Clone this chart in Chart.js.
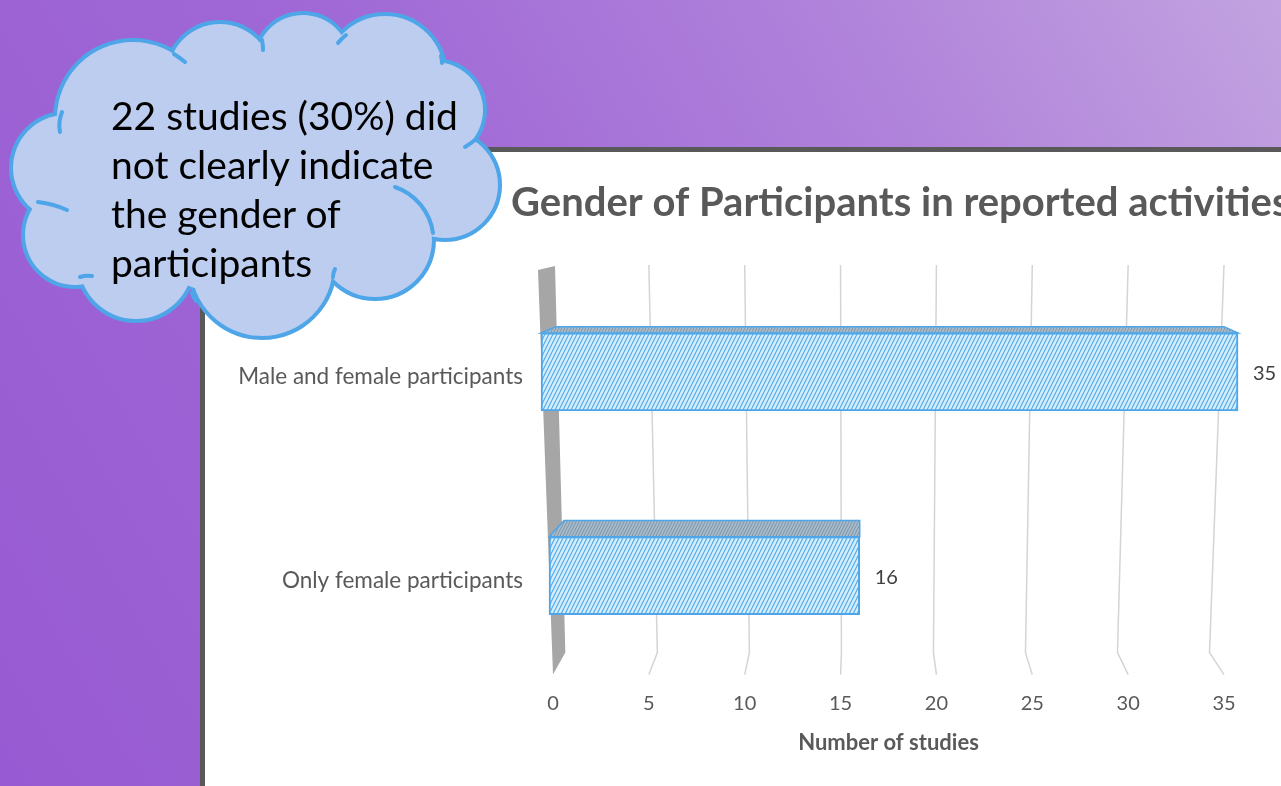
<!DOCTYPE html>
<html>
<head>
<meta charset="utf-8">
<script src="https://cdn.jsdelivr.net/npm/chart.js@4"></script>
<style>
  html, body { margin: 0; padding: 0; }
  body {
    width: 1281px; height: 786px; overflow: hidden; position: relative;
    background: linear-gradient(60deg, #985ad2 0%, #a069d6 45%, #b184db 75%, #c2a3e0 100%);
    font-family: Lato, "Open Sans", sans-serif;
  }
  #panel {
    position: absolute; left: 200px; top: 147px; width: 1200px; height: 800px;
    background: #fff; border-left: 5px solid #595959; border-top: 5px solid #595959;
  }
  #chart { position: absolute; left: 0; top: 0; }
  #cloud { position: absolute; left: 0; top: 0; }
  #cloudText {
    position: absolute; left: 111px; top: 91px;
    font-size: 39px; line-height: 49px; color: #000; white-space: nowrap;
  }
</style>
</head>
<body>
<div id="panel"></div>
<canvas id="chart" width="1281" height="786"></canvas>

<svg id="cloud" width="520" height="350" viewBox="0 0 520 350">
  <g id="lobes" fill="none" stroke="#4ea5e8" stroke-width="8"></g>
  <g id="lobeFill" fill="#bccdf0" stroke="none"></g>
  <g fill="none" stroke="#4ea5e8" stroke-width="4" stroke-linecap="round">
    <path d="M395 187 A57 57 0 0 1 433 233"/>
    <path d="M60 132 Q58 122 62 112"/>
    <path d="M38 202 Q54 204 67 210"/>
    <path d="M80 277 Q86 275 92 276"/>
    <path d="M192 293 Q193 297 196 301"/>
    <path d="M333 277 Q333 273 335 269"/>
    <path d="M465 147 Q470 144 475 140"/>
    <path d="M442 63 Q442 60 441 56"/>
    <path d="M338 43 Q341 39 346 35"/>
    <path d="M263 50 Q263 45 262 40"/>
    <path d="M185 62 Q180 58 174 54"/>
  </g>
</svg>
<div id="cloudText">22 studies (30%) did<br>not clearly indicate<br>the gender of<br>participants</div>

<script>
// categories and counts shown on the bars
const categories = ["Male and female participants", "Only female participants"];
const studyCounts = [35, 16];
const xTickValues = [0, 5, 10, 15, 20, 25, 30, 35];
const chartTitle = "Gender of Participants in reported activities";
const axisTitle = "Number of studies";

const FONT = "Lato, 'Open Sans', sans-serif";
const GREY_TEXT = "#595959";

// cloud lobes: [cx, cy, r]
const lobes = [
  [133, 118, 76], [220, 76, 52], [303, 62, 47], [385, 75, 59], [435, 110, 48],
  [445, 185, 53], [375, 240, 57], [262, 265, 71], [136, 262, 57], [75, 235, 50], [66, 168, 53]
];
const ns = "http://www.w3.org/2000/svg";
lobes.forEach(([x, y, r]) => {
  ["lobes", "lobeFill"].forEach(id => {
    const c = document.createElementNS(ns, "circle");
    c.setAttribute("cx", x); c.setAttribute("cy", y); c.setAttribute("r", r);
    document.getElementById(id).appendChild(c);
  });
});
// fill the gaps between lobes
const core = document.createElementNS(ns, "path");
core.setAttribute("d", "M110 120 L300 70 L430 110 L440 200 L360 260 L200 290 L90 250 L70 170 Z");
document.getElementById("lobeFill").appendChild(core);

const canvas = document.getElementById("chart");
const ctx = canvas.getContext("2d");

// diagonal hatch used for the bar faces
function hatch(bg, fg, step, lw) {
  const c = document.createElement("canvas");
  c.width = step; c.height = step * 2;
  const g = c.getContext("2d");
  g.fillStyle = bg;
  g.fillRect(0, 0, c.width, c.height);
  g.strokeStyle = fg;
  g.lineWidth = lw;
  g.beginPath();
  for (let k = -1; k <= 1; k++) {
    g.moveTo(k * step, step * 2);
    g.lineTo(k * step + step, 0);
  }
  g.stroke();
  return ctx.createPattern(c, "repeat");
}
const frontFill = hatch("#d6eefc", "#5db0ea", 4, 1.25);
const topFill = hatch("#a9bccc", "#7b92a6", 3, 1);

// 3d look: back wall, bent gridlines, widened front faces, bar tops
const depthEffects = {
  id: "depthEffects",
  beforeDatasetsDraw(chart) {
    const { ctx, chartArea: a, scales: { x } } = chart;
    const cx = a.left + a.width * 0.46;
    ctx.save();
    // gridlines
    ctx.strokeStyle = "#d4d4d4";
    ctx.lineWidth = 1.5;
    x.ticks.forEach(t => {
      const px = x.getPixelForValue(t.value);
      if (t.value === 0) return;
      ctx.beginPath();
      ctx.moveTo(px, a.top - 5);
      ctx.lineTo(px + (cx - px) * 0.04, a.bottom - 25);
      ctx.lineTo(px, a.bottom - 3);
      ctx.stroke();
    });
    // wall at zero
    const p0 = x.getPixelForValue(0);
    ctx.fillStyle = "#a6a6a6";
    ctx.beginPath();
    ctx.moveTo(p0 - 15, a.top);
    ctx.lineTo(p0 + 2, a.top - 4);
    ctx.lineTo(p0 + (cx - p0) * 0.04, a.bottom - 25);
    ctx.lineTo(p0, a.bottom - 3);
    ctx.closePath();
    ctx.fill();
    ctx.restore();

    chart.getDatasetMeta(0).data.forEach(bar => {
      const e = 0.0516 * (1 - (bar.y - a.top) / a.height);
      bar.gridX = bar.x;
      bar.gridBase = bar.base;
      bar.x = bar.x + (bar.x - cx) * e;
      bar.base = bar.base + (bar.base - cx) * e;
    });
  },
  afterDatasetsDraw(chart) {
    const { ctx, chartArea: a } = chart;
    ctx.save();
    chart.getDatasetMeta(0).data.forEach((bar, i) => {
      const top = bar.y - bar.height / 2;
      const depth = (bar.y - a.top + 20) * 0.05;
      ctx.beginPath();
      ctx.moveTo(bar.base, top);
      ctx.lineTo(bar.base + 15, top - depth);
      ctx.lineTo(bar.gridX, top - depth);
      ctx.lineTo(bar.x, top);
      ctx.closePath();
      ctx.fillStyle = topFill;
      ctx.fill();
      ctx.strokeStyle = "#4ea6e8";
      ctx.lineWidth = 1.5;
      ctx.stroke();

      ctx.fillStyle = "#404040";
      ctx.font = "20px " + FONT;
      ctx.textAlign = "left";
      ctx.textBaseline = "middle";
      ctx.fillText(String(studyCounts[i]), bar.x + 15, bar.y + 2);

      bar.x = bar.gridX;
      bar.base = bar.gridBase;
    });
    ctx.restore();
  },
  afterDraw(chart) {
    const { ctx } = chart;
    ctx.save();
    ctx.fillStyle = GREY_TEXT;
    ctx.font = "bold 40px " + FONT;
    ctx.textAlign = "left";
    ctx.textBaseline = "alphabetic";
    ctx.fillText(chartTitle, 511, 216);
    ctx.restore();
  }
};

new Chart(canvas, {
  type: "bar",
  data: {
    labels: categories,
    datasets: [{
      data: studyCounts,
      backgroundColor: frontFill,
      borderColor: "#4ea6e8",
      borderWidth: 2,
      borderSkipped: false,
      barThickness: 78,
      clip: false
    }]
  },
  options: {
    indexAxis: "y",
    responsive: false,
    animation: false,
    layout: { padding: { left: 205, top: 270, right: 57, bottom: 30 } },
    plugins: {
      legend: { display: false },
      tooltip: { enabled: false }
    },
    scales: {
      x: {
        min: 0,
        max: 35,
        afterBuildTicks: s => { s.ticks = xTickValues.map(v => ({ value: v })); },
        grid: { display: false, drawTicks: false },
        border: { display: false },
        ticks: { color: GREY_TEXT, font: { family: FONT, size: 20 }, padding: 14, maxRotation: 0 },
        title: {
          display: true,
          text: axisTitle,
          color: GREY_TEXT,
          font: { family: FONT, size: 22, weight: "bold" },
          padding: { top: 0, bottom: 0 }
        }
      },
      y: {
        afterFit: s => { s.width = 348; },
        grid: { display: false, drawTicks: false },
        border: { display: false },
        ticks: { color: GREY_TEXT, font: { family: FONT, size: 22.5 }, padding: 30, labelOffset: 5 }
      }
    }
  },
  plugins: [depthEffects]
});
</script>
</body>
</html>
